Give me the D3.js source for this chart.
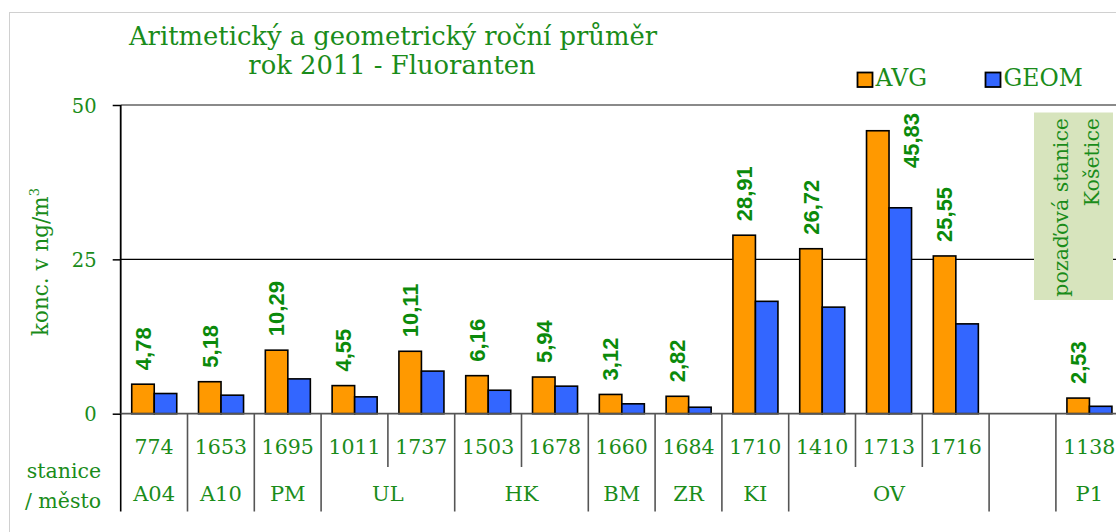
<!DOCTYPE html>
<html>
<head>
<meta charset="utf-8">
<script src="https://cdn.jsdelivr.net/npm/d3@7"></script>
<style>
html,body{margin:0;padding:0;background:#fff;}
svg{display:block;}
</style>
</head>
<body>
<svg id="chart" width="1116" height="532"></svg>
<script>
// ---- data ----
const stations = ["774","1653","1695","1011","1737","1503","1678","1660","1684","1710","1410","1713","1716","","1138"];
const cities   = ["A04","A10","PM","UL","UL","HK","HK","BM","ZR","KI","OV","OV","OV","","P1"];
const avgValues  = [4.78,5.18,10.29,4.55,10.11,6.16,5.94,3.12,2.82,28.91,26.72,45.83,25.55,null,2.53];
const geomValues = [3.27,3.00,5.64,2.73,6.90,3.80,4.46,1.60,1.05,18.20,17.26,33.35,14.55,null,1.20];
const yTicks = [0,25,50];
const seriesNames = ["AVG","GEOM"];
const titleLines = ["Aritmetický a geometrický roční průměr","rok 2011 - Fluoranten"];
const yTitle = "konc. v ng/m";
const bgNoteLines = ["pozaďová stanice","Košetice"];

// ---- style ----
const GREEN = "#1a8c1a";
const LBL_GREEN = "#0b8a0b";
const SERIF = "'DejaVu Serif', serif";
const colors = {AVG:"#ff9900", GEOM:"#3366ff"};

const svg = d3.select("#chart");
const plotL = 120.7, plotTop = 105, plotBottom = 413.7;
const bandW = 66.8;
const x = d3.scaleBand().domain(d3.range(stations.length))
  .range([plotL, plotL + bandW*stations.length]).paddingInner(0).paddingOuter(0);
const y = d3.scaleLinear().domain([0,50]).range([plotBottom, plotTop]);
const bw = x.bandwidth()*0.337, off = x.bandwidth()*0.165;

// outer chart border
svg.append("rect").attr("x",9.5).attr("y",12.5).attr("width",1200).attr("height",600)
  .attr("fill","none").attr("stroke","#d0d0d0").attr("stroke-width",1);

// background station box
svg.append("rect").attr("x",1034).attr("y",112.5).attr("width",79).attr("height",187.5)
  .attr("fill","#d7e4bd");

// gridline at 25 (drawn excluding box)
svg.append("line").attr("x1",plotL).attr("x2",1034).attr("y1",y(25)).attr("y2",y(25))
  .attr("stroke","#000").attr("stroke-width",1.2);
svg.append("line").attr("x1",1113).attr("x2",1116).attr("y1",y(25)).attr("y2",y(25))
  .attr("stroke","#000").attr("stroke-width",1.2);
// top border at 50
svg.append("line").attr("x1",plotL).attr("x2",1116).attr("y1",y(50)).attr("y2",y(50))
  .attr("stroke","#8a8a8a").attr("stroke-width",2);

// note text
const noteG = svg.append("text").attr("transform","translate(1068,118) rotate(-90)")
  .attr("text-anchor","end").attr("font-family",SERIF).attr("font-size",20.5).attr("fill",GREEN);
noteG.append("tspan").attr("x",0).attr("y",0).text(bgNoteLines[0]);
noteG.append("tspan").attr("x",0).attr("y",31).text(bgNoteLines[1]);

// bars
const idx = d3.range(stations.length).filter(i => avgValues[i] != null);
svg.append("g").selectAll("rect").data(idx).join("rect")
  .attr("x", i => x(i)+off).attr("y", i => y(avgValues[i]))
  .attr("width", bw).attr("height", i => y(0)-y(avgValues[i]))
  .attr("fill", colors.AVG).attr("stroke","#000").attr("stroke-width",1.6);
svg.append("g").selectAll("rect").data(idx).join("rect")
  .attr("x", i => x(i)+off+bw).attr("y", i => y(geomValues[i]))
  .attr("width", bw).attr("height", i => y(0)-y(geomValues[i]))
  .attr("fill", colors.GEOM).attr("stroke","#000").attr("stroke-width",1.6);

// value labels
const fmt = v => v.toFixed(2).replace(".",",");
svg.append("g").selectAll("text").data(idx).join("text")
  .each(function(i){
    const t = d3.select(this);
    const cx = x(i)+off+bw/2;
    let ys = y(avgValues[i]) - 14;
    let xx = cx;
    const estLen = 56;
    if (ys - estLen < plotTop) { xx = cx + 1.5*bw; ys = plotTop + 7 + estLen; }
    t.attr("transform", `translate(${xx},${ys}) rotate(-90)`);
  })
  .attr("dy","0.36em")
  .attr("font-family","'Liberation Sans', Arial, sans-serif").attr("font-weight","bold")
  .attr("font-size",22).attr("fill",LBL_GREEN)
  .text(i => fmt(avgValues[i]));

// axes
const yAxis = svg.append("g").attr("transform",`translate(${plotL},0)`)
  .call(d3.axisLeft(y).tickValues(yTicks).tickSize(8).tickPadding(16).tickFormat(d3.format("d")));
yAxis.select(".domain").remove();
yAxis.selectAll(".tick line").attr("stroke","#000").attr("stroke-width",1.5);
yAxis.selectAll(".tick text").attr("font-family",SERIF).attr("font-size",19.5).attr("fill",GREEN)
  .attr("dy","0.36em");
svg.append("line").attr("x1",plotL).attr("x2",plotL).attr("y1",plotTop).attr("y2",plotBottom)
  .attr("stroke","#000").attr("stroke-width",1.8);
svg.append("line").attr("x1",plotL).attr("x2",1116).attr("y1",plotBottom).attr("y2",plotBottom)
  .attr("stroke","#555").attr("stroke-width",1.8);

// category table
const tbl = svg.append("g");
d3.range(stations.length+1).forEach(k => {
  const xx = plotL + k*bandW;
  const full = k===0 || k===stations.length || cities[k] !== cities[k-1];
  tbl.append("line").attr("x1",xx).attr("x2",xx).attr("y1",plotBottom).attr("y2", full?511.5:467)
    .attr("stroke", k===0?"#000":"#555").attr("stroke-width",1.6);
});
tbl.selectAll("text.st").data(d3.range(stations.length)).join("text").attr("class","st")
  .attr("x", i => x(i)+x.bandwidth()/2).attr("y",453.5).attr("text-anchor","middle")
  .attr("font-family",SERIF).attr("font-size",20.5).attr("fill",GREEN).text(i => stations[i]);
const groups = [];
cities.forEach((c,i) => {
  if (groups.length && groups[groups.length-1].c === c) groups[groups.length-1].e = i;
  else groups.push({c, s:i, e:i});
});
tbl.selectAll("text.ct").data(groups.filter(g=>g.c)).join("text").attr("class","ct")
  .attr("x", g => (x(g.s)+x(g.e)+x.bandwidth())/2).attr("y",501).attr("text-anchor","middle")
  .attr("font-family",SERIF).attr("font-size",21).attr("fill",GREEN).text(g => g.c);
svg.append("text").attr("x",64).attr("y",478).attr("text-anchor","middle")
  .attr("font-family",SERIF).attr("font-size",20.5).attr("fill",GREEN).text("stanice");
svg.append("text").attr("x",63).attr("y",508).attr("text-anchor","middle")
  .attr("font-family",SERIF).attr("font-size",20.5).attr("fill",GREEN).text("/ město");

// y title
const yt = svg.append("text").attr("transform","translate(48,262) rotate(-90)")
  .attr("text-anchor","middle").attr("font-family",SERIF).attr("font-size",21.5).attr("fill",GREEN);
yt.append("tspan").text(yTitle);
yt.append("tspan").attr("font-size",13).attr("dy",-9).text("3");

// title
const tt = svg.append("text").attr("text-anchor","middle").attr("font-family",SERIF)
  .attr("font-size",25.8).attr("fill",GREEN);
tt.append("tspan").attr("x",393).attr("y",45).text(titleLines[0]);
tt.append("tspan").attr("x",392).attr("y",74).text(titleLines[1]);

// legend
const lg = svg.append("g");
[{n:"AVG",x:857.5},{n:"GEOM",x:985.5}].forEach(d => {
  lg.append("rect").attr("x",d.x).attr("y",72.5).attr("width",15).attr("height",14.5)
    .attr("fill",colors[d.n]).attr("stroke","#000").attr("stroke-width",1.8);
  lg.append("text").attr("x",d.x+18).attr("y",86).attr("font-family",SERIF).attr("font-size",23.5)
    .attr("fill",GREEN).text(d.n);
});
</script>
</body>
</html>
